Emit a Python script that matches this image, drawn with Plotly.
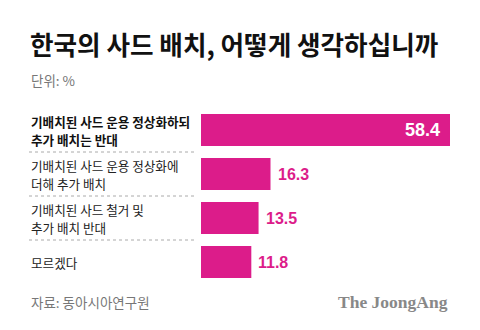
import plotly.graph_objects as go

categories = [
    ["기배치된 사드 운용 정상화하되", "추가 배치는 반대"],
    ["기배치된 사드 운용 정상화에", "더해 추가 배치"],
    ["기배치된 사드 철거 및", "추가 배치 반대"],
    ["모르겠다"],
]
values = [58.4, 16.3, 13.5, 11.8]
title = "한국의 사드 배치, 어떻게 생각하십니까"
unit = "단위: %"
source = "자료: 동아시아연구원"
brand = "The JoongAng"

W, H = 480, 330
MAG = "#DC1C8A"
KR = "Noto Sans CJK KR"
ypos = list(range(len(values)))

fig = go.Figure()
fig.add_trace(go.Bar(
    x=values, y=ypos, orientation="h", marker=dict(color=MAG, line=dict(width=0)),
    width=0.727, hoverinfo="skip",
))

def px_x(p):
    return p / W

def px_y(p):
    return 1 - p / H

fig.update_layout(
    width=W, height=H, margin=dict(l=0, r=0, t=0, b=0),
    paper_bgcolor="white", plot_bgcolor="white", showlegend=False,
    xaxis=dict(domain=[px_x(201), px_x(450)], range=[0, max(values)], visible=False, fixedrange=True),
    yaxis=dict(domain=[px_y(284), px_y(108)], range=[len(values) - 0.5, -0.5], visible=False, fixedrange=True),
    font=dict(family=KR),
)

ann = []
# title
ann.append(dict(text="<b>" + title + "</b>", x=px_x(28), y=px_y(44), xref="paper", yref="paper",
                xanchor="left", yanchor="middle", showarrow=False,
                font=dict(family=KR, size=25.6, color="#111111")))
ann.append(dict(text=unit, x=px_x(29), y=px_y(80), xref="paper", yref="paper",
                xanchor="left", yanchor="middle", showarrow=False,
                font=dict(family=KR, size=13.5, color="#777777")))
# category labels (one annotation per line)
for i, lines in enumerate(categories):
    n = len(lines)
    for j, line in enumerate(lines):
        shift = (n - 1) * 9 - j * 18
        txt = "<b>" + line + "</b>" if i == 0 else line
        ann.append(dict(text=txt, x=px_x(29), y=i, xref="paper", yref="y",
                        xanchor="left", yanchor="middle", align="left", showarrow=False,
                        yshift=shift,
                        font=dict(family=KR, size=12.6, color="#111111" if i == 0 else "#222222")))
# value labels
for i, v in enumerate(values):
    if i == 0:
        ann.append(dict(text="<b>%.1f</b>" % v, x=v, y=i, xref="x", yref="y", xanchor="right",
                        yanchor="middle", xshift=-8, showarrow=False,
                        font=dict(family="Liberation Sans", size=18, color="white")))
    else:
        ann.append(dict(text="<b>%.1f</b>" % v, x=v, y=i, xref="x", yref="y", xanchor="left",
                        yanchor="middle", xshift=5, showarrow=False,
                        font=dict(family="Liberation Sans", size=16, color=MAG)))
# footer
ann.append(dict(text=source, x=px_x(29), y=px_y(302), xref="paper", yref="paper",
                xanchor="left", yanchor="middle", showarrow=False,
                font=dict(family=KR, size=13.5, color="#777777")))
ann.append(dict(text="<b>" + brand + "</b>", x=px_x(450), y=px_y(302), xref="paper", yref="paper",
                xanchor="right", yanchor="middle", showarrow=False,
                font=dict(family="Liberation Serif", size=17.5, color="#888888")))
fig.update_layout(annotations=ann)

shapes = []
for i in range(len(values) - 1):
    shapes.append(dict(type="line", xref="paper", yref="y", x0=px_x(29), x1=px_x(194),
                       y0=i + 0.5, y1=i + 0.5, line=dict(color="#aaaaaa", width=1, dash="dot")))
fig.update_layout(shapes=shapes)

fig.write_html("out.html", config={"displayModeBar": False})
